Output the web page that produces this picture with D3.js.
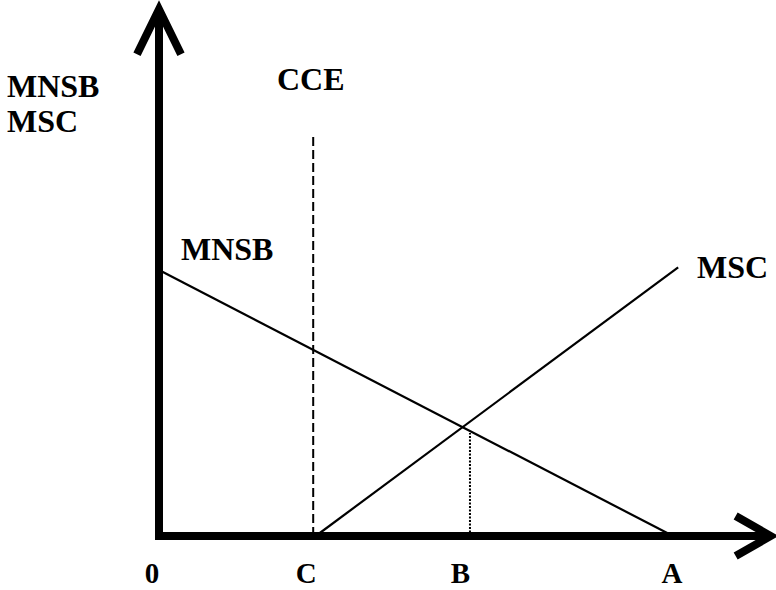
<!DOCTYPE html>
<html>
<head>
<meta charset="utf-8">
<script src="https://cdn.jsdelivr.net/npm/d3@7"></script>
<style>
  body { margin: 0; background: #fff; }
  text { font-family: "Liberation Serif", "Times New Roman", serif; font-weight: bold; fill: #000; }
</style>
</head>
<body>
<script>
// quantity points on the x axis
var tickNames = ["0", "C", "B", "A"];
var tickValues = [0, 30, 60, 100];

// marginal net social benefit and marginal social cost (quantity, value)
var mnsb = [[0, 100], [100, 0]];
var msc = [[30.5, 0], [101, 101]];

// critical carrying capacity (CCE) and the optimum B
var cceX = 30, cceTop = 151;
var optX = 60.5;

var width = 776, height = 590;

var x = d3.scaleLinear().domain([0, 100]).range([159, 673]);
var y = d3.scaleLinear().domain([0, 100]).range([536, 270]);

var svg = d3.select("body")
  .append("svg")
    .attr("width", width)
    .attr("height", height);

var line = d3.line()
  .x(function(d) { return x(d[0]); })
  .y(function(d) { return y(d[1]); });

// axes with open arrowheads
var xEnd = 119, yEnd = 198;

svg.append("line")
  .attr("x1", x(0) - 4).attr("y1", y(0))
  .attr("x2", x(xEnd) - 3).attr("y2", y(0))
  .attr("stroke", "#000").attr("stroke-width", 8);

svg.append("line")
  .attr("x1", x(0)).attr("y1", y(0) + 4)
  .attr("x2", x(0)).attr("y2", y(yEnd) + 3)
  .attr("stroke", "#000").attr("stroke-width", 8);

svg.append("path")
  .attr("d", "M" + (x(xEnd) - 35) + "," + (y(0) - 20) + "L" + x(xEnd) + "," + y(0) + "L" + (x(xEnd) - 35) + "," + (y(0) + 20))
  .attr("fill", "none").attr("stroke", "#000").attr("stroke-width", 8)
  .attr("stroke-linejoin", "miter");

svg.append("path")
  .attr("d", "M" + (x(0) - 22) + "," + (y(yEnd) + 45) + "L" + x(0) + "," + y(yEnd) + "L" + (x(0) + 22) + "," + (y(yEnd) + 45))
  .attr("fill", "none").attr("stroke", "#000").attr("stroke-width", 8)
  .attr("stroke-linejoin", "miter");

// CCE dashed line
svg.append("line")
  .attr("x1", x(cceX)).attr("y1", y(0))
  .attr("x2", x(cceX)).attr("y2", y(cceTop))
  .attr("stroke", "#000").attr("stroke-width", 2)
  .attr("stroke-dasharray", "9,4");

// curves
svg.append("path").datum(mnsb)
  .attr("d", line)
  .attr("fill", "none").attr("stroke", "#000").attr("stroke-width", 2.2);

svg.append("path").datum(msc)
  .attr("d", line)
  .attr("fill", "none").attr("stroke", "#000").attr("stroke-width", 2.2);

// dotted drop line from the crossing
var mnsbAt = d3.scaleLinear().domain([mnsb[0][0], mnsb[1][0]]).range([mnsb[0][1], mnsb[1][1]]);
svg.append("line")
  .attr("x1", x(optX)).attr("y1", y(0))
  .attr("x2", x(optX)).attr("y2", y(mnsbAt(optX)) + 2)
  .attr("stroke", "#000").attr("stroke-width", 2)
  .attr("stroke-dasharray", "2,1.5");

// tick labels
svg.selectAll(".tick-label")
  .data(tickValues)
  .enter()
  .append("text")
    .attr("class", "tick-label")
    .attr("x", function(d) { return x(d) - (d === 100 ? 1 : 7); })
    .attr("y", 583)
    .attr("text-anchor", "middle")
    .attr("font-size", 29)
    .text(function(d, i) { return tickNames[i]; });

// labels
var labels = [
  ["MNSB", 7, 97],
  ["MSC", 7, 132],
  ["CCE", 277, 90],
  ["MNSB", 181, 260],
  ["MSC", 697, 278]
];
svg.selectAll(".label")
  .data(labels)
  .enter()
  .append("text")
    .attr("class", "label")
    .attr("x", function(d) { return d[1]; })
    .attr("y", function(d) { return d[2]; })
    .attr("font-size", 32)
    .text(function(d) { return d[0]; });
</script>
</body>
</html>
